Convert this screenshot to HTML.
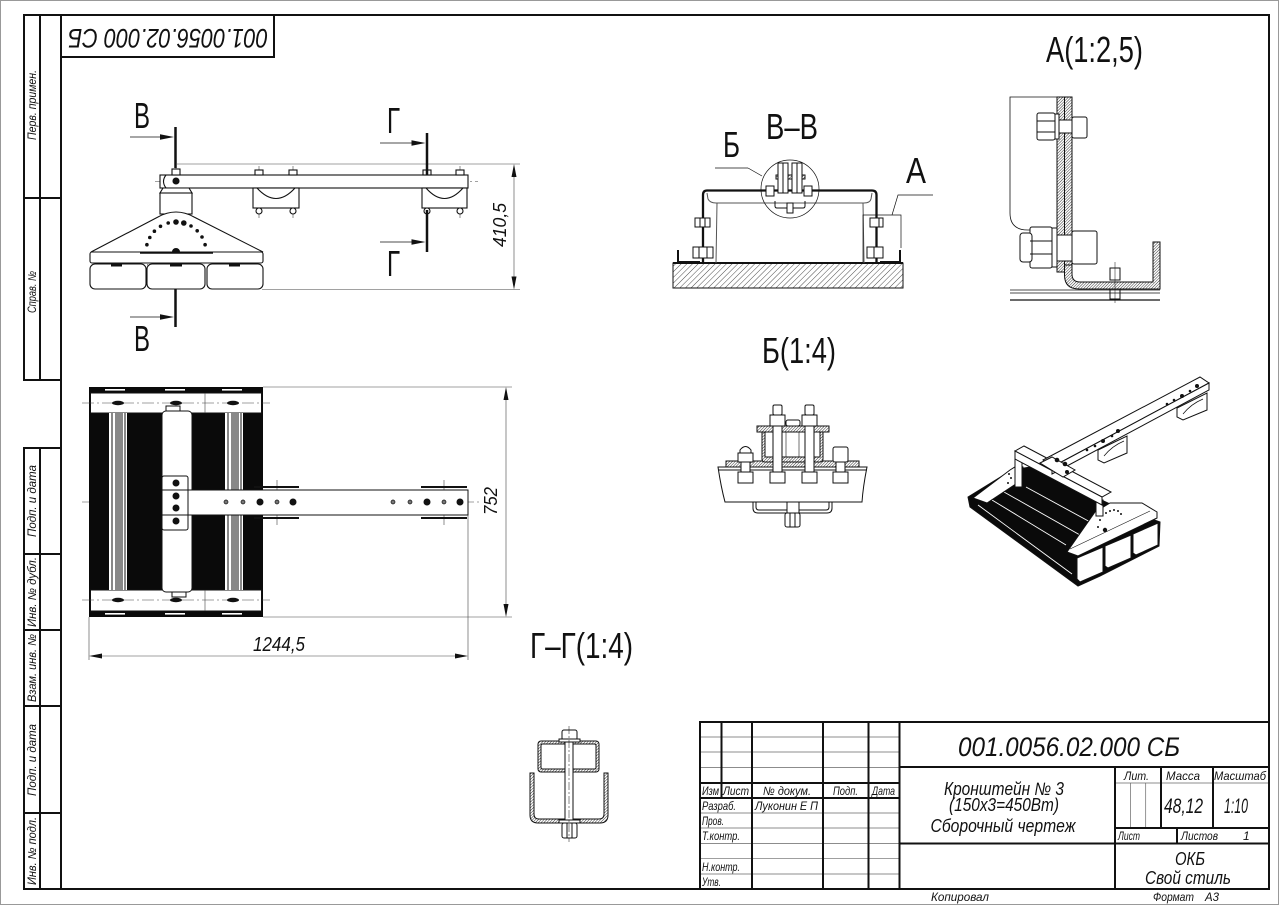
<!DOCTYPE html>
<html><head><meta charset="utf-8">
<style>
html,body{margin:0;padding:0;background:#fff;}
svg{display:block;}
text{font-family:"Liberation Sans","DejaVu Sans",sans-serif;fill:#111;}
.it{font-style:italic;}
</style></head>
<body>
<svg width="1279" height="905" viewBox="0 0 1279 905" xmlns="http://www.w3.org/2000/svg">
<defs>
<pattern id="h" width="4" height="4" patternUnits="userSpaceOnUse" patternTransform="rotate(45)">
<line x1="0" y1="0" x2="0" y2="4" stroke="#000" stroke-width="0.7"/></pattern>
<pattern id="hd" width="2" height="2" patternUnits="userSpaceOnUse" patternTransform="rotate(45)">
<rect width="2" height="2" fill="#fff"/><line x1="0" y1="0" x2="0" y2="2" stroke="#000" stroke-width="0.8"/></pattern>
</defs>
<rect x="0.5" y="0.5" width="1278" height="904" fill="#fff" stroke="#999" stroke-width="1"/>

<!-- FRAME -->
<g fill="none" stroke="#111" stroke-width="2">
<rect x="61" y="15" width="1208" height="874"/>
<rect x="61" y="15" width="213" height="42"/>
<rect x="24" y="15" width="37" height="365"/>
<line x1="40" y1="15" x2="40" y2="380"/>
<line x1="24" y1="198" x2="61" y2="198"/>
<rect x="24" y="448" width="37" height="441"/>
<line x1="40" y1="448" x2="40" y2="889"/>
<line x1="24" y1="554" x2="61" y2="554"/>
<line x1="24" y1="630" x2="61" y2="630"/>
<line x1="24" y1="706" x2="61" y2="706"/>
<line x1="24" y1="813" x2="61" y2="813"/>
</g>
<g class="it" font-size="11.5" text-anchor="middle">
<text transform="translate(36,105) rotate(-90)" textLength="70" lengthAdjust="spacingAndGlyphs">Перв. примен.</text>
<text transform="translate(36,292) rotate(-90)" textLength="42" lengthAdjust="spacingAndGlyphs">Справ. №</text>
<text transform="translate(36,501) rotate(-90)" textLength="72" lengthAdjust="spacingAndGlyphs">Подп. и дата</text>
<text transform="translate(36,592) rotate(-90)" textLength="70" lengthAdjust="spacingAndGlyphs">Инв. № дубл.</text>
<text transform="translate(36,668) rotate(-90)" textLength="68" lengthAdjust="spacingAndGlyphs">Взам. инв. №</text>
<text transform="translate(36,760) rotate(-90)" textLength="72" lengthAdjust="spacingAndGlyphs">Подп. и дата</text>
<text transform="translate(36,851) rotate(-90)" textLength="68" lengthAdjust="spacingAndGlyphs">Инв. № подл.</text>
</g>
<text class="it" x="66" y="43" font-size="27" textLength="200" lengthAdjust="spacingAndGlyphs" transform="rotate(180 167 36)">001.0056.02.000 СБ</text>

<!-- TITLE BLOCK -->
<g fill="none" stroke="#111">
<g stroke-width="0.7" stroke="#666">
<line x1="700" y1="737" x2="899.5" y2="737"/>
<line x1="700" y1="752" x2="899.5" y2="752"/>
<line x1="700" y1="767.5" x2="899.5" y2="767.5"/>
<line x1="700" y1="813" x2="899.5" y2="813"/>
<line x1="700" y1="828" x2="899.5" y2="828"/>
<line x1="700" y1="843.5" x2="899.5" y2="843.5"/>
<line x1="700" y1="858.7" x2="899.5" y2="858.7"/>
<line x1="700" y1="874" x2="899.5" y2="874"/>
<line x1="1115" y1="783" x2="1269" y2="783"/>
<line x1="1130.5" y1="783" x2="1130.5" y2="828"/>
<line x1="1145.7" y1="783" x2="1145.7" y2="828"/>
</g>
<g stroke-width="2">
<rect x="700" y="722" width="569" height="167"/>
<line x1="721.5" y1="722" x2="721.5" y2="798"/>
<line x1="752" y1="722" x2="752" y2="889"/>
<line x1="823" y1="722" x2="823" y2="889"/>
<line x1="868.5" y1="722" x2="868.5" y2="889"/>
<line x1="899.5" y1="722" x2="899.5" y2="889"/>
<line x1="700" y1="783" x2="899.5" y2="783"/>
<line x1="700" y1="798" x2="899.5" y2="798"/>
<line x1="899.5" y1="767" x2="1269" y2="767"/>
<line x1="899.5" y1="843.5" x2="1269" y2="843.5"/>
<line x1="1115" y1="767" x2="1115" y2="889"/>
<line x1="1115" y1="828" x2="1269" y2="828"/>
<line x1="1161" y1="767" x2="1161" y2="828"/>
<line x1="1213" y1="767" x2="1213" y2="828"/>
<line x1="1177" y1="828" x2="1177" y2="843.5"/>
</g>
</g>
<g class="it">
<text x="958" y="756" font-size="27" textLength="222" lengthAdjust="spacingAndGlyphs">001.0056.02.000 СБ</text>
<g font-size="18" text-anchor="middle">
<text x="1004" y="795" textLength="120" lengthAdjust="spacingAndGlyphs">Кронштейн № 3</text>
<text x="1004" y="811" textLength="110" lengthAdjust="spacingAndGlyphs">(150х3=450Вт)</text>
<text x="1003" y="832" textLength="145" lengthAdjust="spacingAndGlyphs">Сборочный чертеж</text>
<text x="1190" y="865" textLength="30" lengthAdjust="spacingAndGlyphs">ОКБ</text>
<text x="1188" y="884" textLength="86" lengthAdjust="spacingAndGlyphs">Свой стиль</text>
</g>
<g font-size="12">
<text x="1124" y="780" textLength="25" lengthAdjust="spacingAndGlyphs">Лит.</text>
<text x="1166" y="780" textLength="34" lengthAdjust="spacingAndGlyphs">Масса</text>
<text x="1214" y="780" textLength="52" lengthAdjust="spacingAndGlyphs">Масштаб</text>
<text x="1118" y="840" textLength="22" lengthAdjust="spacingAndGlyphs">Лист</text>
<text x="1181" y="840" textLength="37" lengthAdjust="spacingAndGlyphs">Листов</text>
<text x="1243" y="840">1</text>
<text x="931" y="901" textLength="58" lengthAdjust="spacingAndGlyphs">Копировал</text>
<text x="1153" y="901" textLength="41" lengthAdjust="spacingAndGlyphs">Формат</text>
<text x="1205" y="901" textLength="14" lengthAdjust="spacingAndGlyphs">А3</text>
<text x="702" y="795" textLength="17" lengthAdjust="spacingAndGlyphs">Изм</text>
<text x="723" y="795" textLength="26" lengthAdjust="spacingAndGlyphs">Лист</text>
<text x="763" y="795" textLength="48" lengthAdjust="spacingAndGlyphs">№ докум.</text>
<text x="833" y="795" textLength="25" lengthAdjust="spacingAndGlyphs">Подп.</text>
<text x="872" y="795" textLength="23" lengthAdjust="spacingAndGlyphs">Дата</text>
<text x="702" y="810" textLength="34" lengthAdjust="spacingAndGlyphs">Разраб.</text>
<text x="755" y="810" textLength="63" lengthAdjust="spacingAndGlyphs">Луконин Е П</text>
<text x="702" y="825" textLength="22" lengthAdjust="spacingAndGlyphs">Пров.</text>
<text x="702" y="840" textLength="38" lengthAdjust="spacingAndGlyphs">Т.контр.</text>
<text x="702" y="871" textLength="38" lengthAdjust="spacingAndGlyphs">Н.контр.</text>
<text x="702" y="886" textLength="19" lengthAdjust="spacingAndGlyphs">Утв.</text>
</g>
<text x="1164" y="813" font-size="21" textLength="39" lengthAdjust="spacingAndGlyphs">48,12</text>
<text x="1224" y="813" font-size="21" textLength="24" lengthAdjust="spacingAndGlyphs">1:10</text>
</g>

<!-- BIG LABELS -->
<g font-size="36">
<text x="134" y="128" textLength="16" lengthAdjust="spacingAndGlyphs">В</text>
<text x="134" y="351" textLength="16" lengthAdjust="spacingAndGlyphs">В</text>
<text x="387" y="133" textLength="13" lengthAdjust="spacingAndGlyphs">Г</text>
<text x="387" y="276" textLength="13" lengthAdjust="spacingAndGlyphs">Г</text>
<text x="723" y="157" textLength="17" lengthAdjust="spacingAndGlyphs">Б</text>
<text x="766" y="139" textLength="52" lengthAdjust="spacingAndGlyphs">В–В</text>
<text x="906" y="183" textLength="20" lengthAdjust="spacingAndGlyphs">А</text>
<text x="1046" y="62" textLength="97" lengthAdjust="spacingAndGlyphs">А(1:2,5)</text>
<text x="762" y="363" textLength="74" lengthAdjust="spacingAndGlyphs">Б(1:4)</text>
<text x="530" y="658" textLength="103" lengthAdjust="spacingAndGlyphs">Г–Г(1:4)</text>
</g>

<!-- FRONT VIEW -->
<g fill="none" stroke="#111" stroke-width="1.1">
<g stroke-width="0.6" stroke="#444">
<line x1="177" y1="164" x2="520" y2="164"/>
<line x1="262" y1="289.5" x2="520" y2="289.5"/>
<line x1="514" y1="170" x2="514" y2="284"/>
<line x1="176" y1="160" x2="176" y2="292" stroke-dasharray="10 3 2 3"/>
<line x1="155" y1="181.5" x2="478" y2="181.5" stroke-dasharray="12 3 2 3"/>
<line x1="259" y1="166" x2="259" y2="218"/>
<line x1="293" y1="166" x2="293" y2="218"/>
<line x1="460" y1="166" x2="460" y2="218"/>
<path d="M146,244.7 A30,30 0 0 1 206,244.7" stroke-dasharray="4 2"/>
<path d="M147.5,264 A29,29 0 0 0 204.5,264" stroke-dasharray="5 3"/>
<line x1="151.75" y1="245.95" x2="141.1" y2="243.3"/><line x1="154.1" y1="239.9" x2="144.5" y2="234.5"/>
<line x1="158" y1="234.6" x2="150.1" y2="227"/><line x1="163.1" y1="230.6" x2="157.5" y2="221.1"/>
<line x1="169.5" y1="227.9" x2="166.7" y2="217.2"/><line x1="188.5" y1="230.4" x2="194" y2="220.8"/>
<line x1="193.7" y1="234.3" x2="201.5" y2="226.6"/><line x1="197.7" y1="239.5" x2="207.2" y2="234"/>
<line x1="200.3" y1="245.95" x2="210.9" y2="243.3"/>
</g>
<polygon points="514,164 511.5,177 516.5,177" fill="#111" stroke="none"/>
<polygon points="514,289.5 511.5,276.5 516.5,276.5" fill="#111" stroke="none"/>
<rect x="160" y="175" width="308" height="13" fill="#fff"/>
<path d="M166,175 Q161,181.5 166,188"/>
<g fill="#fff">
<rect x="172" y="169" width="8" height="6"/><rect x="255" y="170" width="8" height="5"/><rect x="289" y="170" width="8" height="5"/>
<rect x="423" y="170" width="8" height="5"/><rect x="456" y="170" width="8" height="5"/>
<rect x="253" y="188" width="46" height="20"/>
<rect x="422" y="188" width="45" height="20"/>
<circle cx="259" cy="211" r="3"/><circle cx="293" cy="211" r="3"/><circle cx="427" cy="211" r="3"/><circle cx="460" cy="211" r="3"/>
</g>
<path d="M257,188 Q276,209 295,188"/><path d="M426,188 Q444.5,209 463,188"/>
<path d="M163,188 L189,188 L192,193 L160,193 Z" fill="#fff"/>
<rect x="160" y="193" width="32" height="21" fill="#fff"/>
<circle cx="176" cy="181" r="3" fill="#111"/>
<path d="M91,252 L158,217 Q176,207 194,217 L263,252 Z" fill="#fff"/>
<rect x="90" y="252" width="173" height="11" rx="2" fill="#fff"/>
<line x1="140" y1="253" x2="213" y2="253" stroke-width="1.5"/>
<path d="M172.5,252 A3.5,3.5 0 0 1 179.5,252 Z" fill="#111"/>
<rect x="90" y="264" width="56" height="25" rx="5" fill="#fff"/>
<rect x="147" y="264" width="58" height="25" rx="5" fill="#fff"/>
<rect x="207" y="264" width="56" height="25" rx="5" fill="#fff"/>
<g fill="#111" stroke="none">
<rect x="111" y="264" width="11" height="2.5"/><rect x="170" y="264" width="12" height="2.5"/><rect x="229" y="264" width="11" height="2.5"/>
<circle cx="146.9" cy="244.7" r="1.8"/><circle cx="149.8" cy="237.5" r="1.8"/><circle cx="154.4" cy="231.2" r="1.8"/>
<circle cx="160.5" cy="226.3" r="1.8"/><circle cx="168.2" cy="223" r="1.8"/><circle cx="176" cy="222" r="2.8"/>
<circle cx="183.8" cy="223" r="2.8"/><circle cx="191" cy="226" r="1.8"/><circle cx="197.2" cy="230.8" r="1.8"/>
<circle cx="202" cy="237" r="1.8"/><circle cx="205.1" cy="244.7" r="1.8"/>
</g>
<g stroke-width="2.5">
<line x1="175.5" y1="127" x2="175.5" y2="168"/>
<line x1="175.5" y1="289" x2="175.5" y2="327"/>
<line x1="427" y1="133" x2="427" y2="175"/>
<line x1="427" y1="210" x2="427" y2="252"/>
</g>
<g stroke-width="0.7">
<line x1="130" y1="137" x2="163" y2="137"/><line x1="130" y1="317" x2="163" y2="317"/>
<line x1="380" y1="143" x2="414" y2="143"/><line x1="380" y1="242" x2="414" y2="242"/>
</g>
<g fill="#111" stroke="none">
<polygon points="174,137 160,134.3 160,139.7"/><polygon points="174,317 160,314.3 160,319.7"/>
<polygon points="425.5,143 411.5,140.3 411.5,145.7"/><polygon points="425.5,242 411.5,239.3 411.5,244.7"/>
</g>
</g>
<text class="it" transform="translate(506,247) rotate(-90)" font-size="18" textLength="44" lengthAdjust="spacingAndGlyphs">410,5</text>

<!-- SECTION В-В -->
<g fill="none" stroke="#111" stroke-width="1">
<rect x="673" y="263" width="230" height="25" fill="url(#h)" stroke-width="1"/>
<line x1="673" y1="263" x2="903" y2="263" stroke-width="2"/>
<path d="M707,193 L708,199 Q710,203 716,203 L864,203 Q870,203 871,199 L872,193" stroke="#555"/>
<line x1="717" y1="203" x2="716" y2="263" stroke="#555"/>
<line x1="863" y1="203" x2="864" y2="263" stroke="#555"/>
<path d="M703,262 L703,195 Q703,190.5 707,190.5 L872,190.5 Q876.5,190.5 876.5,195 L876.5,262" stroke-width="2.3"/>
<path d="M678,250 L678,262 L700,262" stroke-width="2"/><path d="M900,250 L900,262 L880,262" stroke-width="2"/>
<g fill="#fff">
<rect x="695" y="218" width="15" height="9"/><rect x="870" y="218" width="13" height="9"/>
<rect x="693" y="247" width="20" height="11"/><rect x="867" y="247" width="16" height="11"/>
</g>
<line x1="700" y1="218" x2="700" y2="227"/><line x1="705" y1="218" x2="705" y2="227"/>
<line x1="699" y1="247" x2="699" y2="258"/><line x1="707" y1="247" x2="707" y2="258"/>
<line x1="874" y1="247" x2="874" y2="258"/><line x1="879" y1="218" x2="879" y2="227"/>
<circle cx="790" cy="189" r="29" stroke-width="0.7"/>
<rect x="776" y="175" width="29" height="4" fill="url(#hd)"/>
<g fill="#fff">
<rect x="778" y="163" width="5" height="30"/><rect x="783" y="163" width="5" height="30"/>
<rect x="792" y="163" width="5" height="30"/><rect x="797" y="163" width="5" height="30"/>
<rect x="766" y="186" width="8" height="10"/><rect x="804" y="186" width="8" height="10"/>
</g>
<path d="M775,201 L775,206 Q775,208 777,208 L803,208 Q805,208 805,206 L805,201"/>
<rect x="787" y="203" width="6" height="10" fill="#fff"/>
<line x1="715" y1="168" x2="748" y2="168" stroke-width="0.7"/><line x1="748" y1="168" x2="762" y2="176" stroke-width="0.7"/>
<path d="M933,195 L898,195 L892,215" stroke-width="0.7"/>
<path d="M863,263 L863,215 L901,215 L901,248" stroke-width="0.7"/>
</g>

<!-- DETAIL A -->
<g fill="none" stroke="#111" stroke-width="1">
<path d="M1057,97 L1010,97 L1010,213 Q1010,230 1028,230 L1057,230" stroke-width="0.8"/>
<rect x="1057" y="97" width="7.5" height="175" fill="url(#hd)"/>
<rect x="1064.5" y="97" width="7.5" height="168" fill="url(#hd)"/>
<path d="M1064.5,265 L1064.5,275 Q1064.5,289 1079,289 L1160,289 L1160,242 L1153,242 L1153,282 L1080,282 Q1072,282 1072,274 L1072,265 Z" fill="url(#hd)"/>
<g fill="#fff">
<rect x="1037" y="113" width="18" height="27" rx="2"/><rect x="1055" y="114" width="4" height="25"/>
<rect x="1059" y="120" width="13" height="13"/>
<rect x="1072" y="117" width="15" height="21" rx="2"/>
<rect x="1030" y="227" width="22" height="41" rx="2"/>
<rect x="1020" y="233" width="12" height="29" rx="3"/>
<rect x="1052" y="228" width="5" height="39"/>
<rect x="1057" y="235" width="15" height="26"/>
<rect x="1072" y="231" width="25" height="33" rx="2"/>
<rect x="1110" y="268" width="10" height="12"/>
<rect x="1110" y="289" width="10" height="10"/>
</g>
<line x1="1037" y1="121" x2="1055" y2="121"/><line x1="1037" y1="132" x2="1055" y2="132"/>
<line x1="1030" y1="241" x2="1052" y2="241"/><line x1="1030" y1="254" x2="1052" y2="254"/>
<line x1="1010" y1="290" x2="1160" y2="290" stroke-width="0.8"/>
<line x1="1010" y1="293" x2="1160" y2="293" stroke-width="0.8"/>
<line x1="1010" y1="300" x2="1160" y2="300" stroke-width="1.2"/>
<line x1="1115" y1="262" x2="1115" y2="303" stroke-width="0.5"/>
</g>

<!-- DETAIL Б -->
<g fill="none" stroke="#111" stroke-width="1">
<path d="M718,467 L867,467 Q863,487 862,502 L725,502 Q721,487 718,467 Z" fill="#fff"/>
<line x1="718" y1="470" x2="867" y2="470"/>
<rect x="726" y="461" width="133" height="6" fill="url(#hd)"/>
<rect x="757" y="426" width="72" height="6" fill="url(#hd)"/>
<path d="M762,432 L762,459 Q762,462 765,462 L820,462 Q823,462 823,459 L823,432 L820,432 L820,457 L765,457 L765,432 Z" fill="url(#hd)"/>
<line x1="786" y1="432" x2="786" y2="457" stroke-width="0.6"/><line x1="799" y1="432" x2="799" y2="457" stroke-width="0.6"/>
<rect x="786" y="420" width="14" height="6" rx="2" fill="#fff"/>
<g fill="#fff">
<rect x="773" y="405" width="9" height="10" rx="1.5"/><rect x="770" y="415" width="15" height="11"/>
<rect x="773" y="426" width="9" height="46"/><rect x="770" y="472" width="15" height="11"/>
<rect x="805" y="405" width="9" height="10" rx="1.5"/><rect x="802" y="415" width="15" height="11"/>
<rect x="805" y="426" width="9" height="46"/><rect x="802" y="472" width="15" height="11"/>
<path d="M740,462 L740,450 Q745.5,443 751,450 L751,462 Z"/>
<rect x="738" y="453" width="15" height="9"/>
<rect x="741" y="462" width="9" height="10"/><rect x="738" y="472" width="15" height="11"/>
<rect x="833" y="447" width="15" height="15" rx="2"/>
<rect x="836" y="462" width="9" height="10"/><rect x="833" y="472" width="15" height="11"/>
</g>
<path d="M753,502 L753,508 Q753,513 758,513 L827,513 Q832,513 832,508 L832,502"/>
<path d="M756,502 L756,507 Q756,510 759,510 L826,510 Q829,510 829,507 L829,502"/>
<rect x="787" y="502" width="12" height="11" fill="#fff"/>
<rect x="785" y="513" width="15" height="14" rx="2" fill="#fff"/>
<line x1="790" y1="513" x2="790" y2="527"/><line x1="795" y1="513" x2="795" y2="527"/>
</g>

<!-- TOP VIEW -->
<g fill="none" stroke="#111" stroke-width="1">
<g stroke-width="0.6" stroke="#444">
<line x1="263" y1="387" x2="512" y2="387"/>
<line x1="263" y1="617" x2="512" y2="617"/>
<line x1="506" y1="392" x2="506" y2="612"/>
<line x1="89" y1="617" x2="89" y2="660"/>
<line x1="468" y1="515" x2="468" y2="660"/>
<line x1="93" y1="656" x2="464" y2="656"/>
<line x1="82" y1="502" x2="480" y2="502" stroke-dasharray="12 3 2 3"/>
<line x1="277" y1="480" x2="277" y2="525"/>
<line x1="444" y1="480" x2="444" y2="525"/>
</g>
<polygon points="506,387 503.5,400 508.5,400" fill="#111" stroke="none"/>
<polygon points="506,617 503.5,604 508.5,604" fill="#111" stroke="none"/>
<polygon points="89,656 102,653.5 102,658.5" fill="#111" stroke="none"/>
<polygon points="468,656 455,653.5 455,658.5" fill="#111" stroke="none"/>
<rect x="89" y="387" width="174" height="230" fill="#0a0a0a" stroke="none"/>
<rect x="90.5" y="393" width="171" height="20" fill="#fff"/>
<rect x="90.5" y="590" width="171" height="21" fill="#fff"/>
<g fill="#fff" stroke="none">
<rect x="105" y="389" width="20" height="1.6"/><rect x="165" y="389" width="20" height="1.6"/><rect x="222" y="389" width="20" height="1.6"/>
<rect x="105" y="613" width="20" height="1.6"/><rect x="165" y="613" width="20" height="1.6"/><rect x="222" y="613" width="20" height="1.6"/>
<rect x="109" y="413" width="18" height="177"/>
<rect x="225" y="413" width="18" height="177"/>
</g>
<g stroke-width="1">
<line x1="112" y1="413" x2="112" y2="590"/><line x1="116" y1="413" x2="116" y2="590"/><line x1="118" y1="413" x2="118" y2="590"/>
<line x1="120" y1="413" x2="120" y2="590"/><line x1="122" y1="413" x2="122" y2="590"/><line x1="125" y1="413" x2="125" y2="590"/>
<line x1="228" y1="413" x2="228" y2="590"/><line x1="232" y1="413" x2="232" y2="590"/><line x1="234" y1="413" x2="234" y2="590"/>
<line x1="236" y1="413" x2="236" y2="590"/><line x1="238" y1="413" x2="238" y2="590"/><line x1="241" y1="413" x2="241" y2="590"/>
</g>
<g stroke-width="0.6" stroke="#444">
<line x1="82" y1="403" x2="270" y2="403" stroke-dasharray="12 3 2 3"/>
<line x1="82" y1="600" x2="270" y2="600" stroke-dasharray="12 3 2 3"/>
<line x1="205" y1="393" x2="205" y2="413"/><line x1="205" y1="590" x2="205" y2="611"/>
</g>
<g fill="#111" stroke="none">
<ellipse cx="118" cy="403" rx="6" ry="2.2"/><ellipse cx="176" cy="403" rx="6" ry="2.2"/><ellipse cx="233" cy="403" rx="6" ry="2.2"/>
<ellipse cx="118" cy="600" rx="6" ry="2.2"/><ellipse cx="176" cy="600" rx="6" ry="2.2"/><ellipse cx="233" cy="600" rx="6" ry="2.2"/>
</g>
<rect x="166" y="406" width="14" height="6" fill="#fff"/>
<rect x="172" y="591" width="14" height="6" fill="#fff"/>
<rect x="162" y="411" width="30" height="181" rx="4" fill="#fff"/>
<rect x="162" y="476" width="26" height="54" rx="2" fill="#fff"/>
<rect x="162" y="490" width="306" height="25" fill="#fff"/>
<line x1="188" y1="490" x2="188" y2="515"/>
<g stroke-width="2">
<line x1="254" y1="487" x2="299" y2="487"/><line x1="254" y1="518" x2="299" y2="518"/>
<line x1="421" y1="487" x2="467" y2="487"/><line x1="421" y1="518" x2="467" y2="518"/>
</g>
<g fill="#111" stroke="none">
<circle cx="176" cy="483" r="3.5"/><circle cx="176" cy="496" r="3.5"/><circle cx="176" cy="508" r="3.5"/><circle cx="176" cy="521" r="3.5"/>
<circle cx="260" cy="502" r="3.5"/><circle cx="293" cy="502" r="3.5"/><circle cx="427" cy="502" r="3.5"/><circle cx="460" cy="502" r="3.5"/>
</g>
<g fill="#777" stroke="#111" stroke-width="0.7">
<circle cx="226" cy="502" r="2"/><circle cx="243" cy="502" r="2"/><circle cx="277" cy="502" r="2"/>
<circle cx="393" cy="502" r="2"/><circle cx="410" cy="502" r="2"/><circle cx="444" cy="502" r="2"/>
</g>
</g>
<text class="it" x="253" y="651" font-size="20" textLength="52" lengthAdjust="spacingAndGlyphs">1244,5</text>
<text class="it" transform="translate(497,515) rotate(-90)" font-size="18" textLength="28" lengthAdjust="spacingAndGlyphs">752</text>

<!-- SECTION Г-Г -->
<g fill="none" stroke="#111" stroke-width="1">
<path d="M530,773 L530,815 Q530,823 538,823 L600,823 Q608,823 608,815 L608,773 L604,773 L604,814 Q604,819 599,819 L539,819 Q534,819 534,814 L534,773 Z" fill="url(#hd)"/>
<rect x="538" y="741" width="61" height="31" rx="3" fill="url(#hd)"/>
<rect x="541" y="744" width="55" height="25" rx="1.5" fill="#fff"/>
<rect x="565" y="740" width="8" height="83" fill="#fff"/>
<rect x="562" y="730" width="15" height="10" rx="2" fill="#fff"/>
<rect x="559" y="739" width="21" height="3" fill="#fff"/>
<rect x="559" y="820" width="21" height="3" fill="#fff"/>
<rect x="562" y="823" width="15" height="15" rx="2" fill="#fff"/>
<line x1="567" y1="823" x2="567" y2="838"/><line x1="572" y1="823" x2="572" y2="838"/>
<line x1="569" y1="726" x2="569" y2="842" stroke-width="0.5" stroke-dasharray="8 2 2 2"/>
</g>

<!-- ISOMETRIC -->
<g stroke="#111" stroke-width="1">
<polygon points="968,497 1012,470 1030,467 1110,504 1160,522 1159,546 1100,576 1078,586 970,507" fill="#0a0a0a"/>
<g stroke="#fff" stroke-width="0.9">
<line x1="978" y1="505" x2="1072" y2="574"/>
<line x1="992" y1="500" x2="1066" y2="545"/>
<line x1="1004" y1="492" x2="1080" y2="535"/>
<line x1="1026" y1="487" x2="1092" y2="523"/>
</g>
<g fill="#fff">
<path d="M1077,558 L1103,547 L1103,572 L1080,582 L1077,579 Z"/>
<path d="M1105,546 L1131,535 L1131,558 L1108,568 L1105,566 Z"/>
<path d="M1133,534 L1158,523 L1158,545 L1136,555 L1133,553 Z"/>
<polygon points="1067,552 1095,512 1110,503 1142,503 1157,512 1157,518 1078,556"/>
<polygon points="973,498 1010,470 1018,465 1023,467 1022,480 987,503"/>
<rect x="1015" y="456" width="7" height="31"/>
<polygon points="1096,500 1103,500 1103,516 1096,516"/>
<polygon points="1015,451 1024,446 1111,492 1102,497"/>
<polygon points="1015,451 1102,497 1102,505 1015,459"/>
<polygon points="1043,460 1200,377 1209,383 1052,467"/>
<polygon points="1052,467 1209,383 1209,390 1052,474"/>
<polygon points="1040,463 1052,457 1075,470 1063,477"/>
<polygon points="1098,450 1127,436 1127,453 1104,463 1098,460"/>
<polygon points="1177,408 1207,393 1207,410 1183,420 1177,417"/>
</g>
<line x1="1070" y1="549" x2="1150" y2="511" stroke-width="0.6"/>
<path d="M1104,456 Q1112,446 1124,441" fill="none" stroke-width="0.7"/>
<path d="M1183,414 Q1191,404 1203,399" fill="none" stroke-width="0.7"/>
<g fill="#111" stroke="none">
<circle cx="1057" cy="460" r="2.3"/><circle cx="1065" cy="464" r="2.3"/><circle cx="1067" cy="472" r="2"/>
<circle cx="1087" cy="450" r="1.3"/><circle cx="1095" cy="446" r="1.3"/><circle cx="1103" cy="441" r="2"/>
<circle cx="1112" cy="436" r="1.3"/><circle cx="1118" cy="431" r="2"/>
<circle cx="1167" cy="404" r="1.3"/><circle cx="1174" cy="400" r="1.3"/><circle cx="1182" cy="396" r="2"/>
<circle cx="1190" cy="391" r="1.3"/><circle cx="1197" cy="386" r="2"/>
<circle cx="1106" cy="513" r="1"/><circle cx="1110" cy="511" r="1"/><circle cx="1114" cy="510" r="1"/>
<circle cx="1118" cy="511" r="1"/><circle cx="1121" cy="514" r="1"/><circle cx="1100" cy="520" r="1"/>
<circle cx="1098" cy="527" r="1"/><circle cx="1105" cy="530" r="2.2"/>
<circle cx="1009" cy="474" r="1"/><circle cx="1011" cy="478" r="1"/><circle cx="1008" cy="483" r="1"/>
</g>
</g>
</svg>
</body></html>
